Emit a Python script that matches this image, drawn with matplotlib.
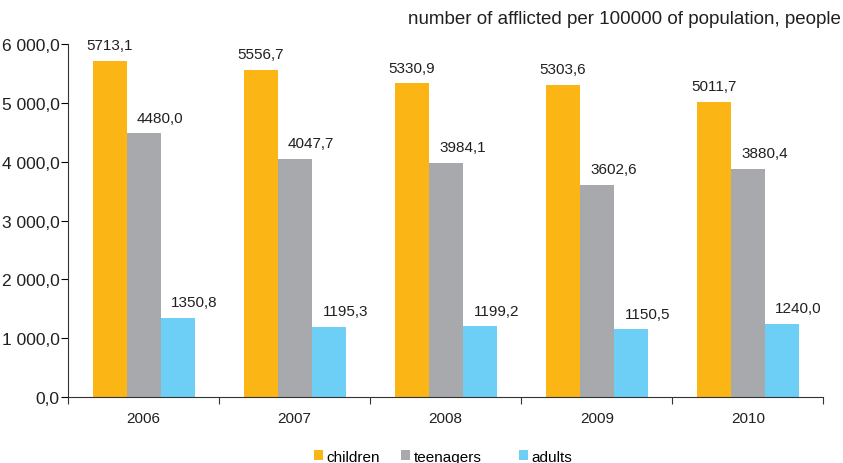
import numpy as np
import matplotlib.pyplot as plt
from matplotlib.ticker import FuncFormatter

plt.rcParams['font.family'] = ['Liberation Sans', 'DejaVu Sans']

years = ['2006', '2007', '2008', '2009', '2010']
children = [5713.1, 5556.7, 5330.9, 5303.6, 5011.7]
teenagers = [4480.0, 4047.7, 3984.1, 3602.6, 3880.4]
adults = [1350.8, 1195.3, 1199.2, 1150.5, 1240.0]

series = [('children', children, '#FBB615'),
          ('teenagers', teenagers, '#A7A9AC'),
          ('adults', adults, '#6DCFF5')]
# horizontal shift of value labels (points)
label_dx = [0, 12, 12]
# left edge of each legend entry (figure fraction)
legend_x = [0.373, 0.476, 0.616]

fig = plt.figure(figsize=(8.43, 4.64), dpi=100)
ax = fig.add_axes([0.0807, 0.1422, 0.896, 0.7608])

x = np.arange(len(years))
w = 0.225
for i, (name, vals, col) in enumerate(series):
    pos = x + (i - 1) * w
    bars = ax.bar(pos, vals, width=w, color=col, label=name)
    for p, v in zip(pos, vals):
        ax.annotate(f'{v:.1f}'.replace('.', ','), (p, v), xytext=(label_dx[i], 8.5),
                    textcoords='offset points', ha='center', va='baseline',
                    fontsize=11, color='#231F20')
    fig.legend([bars], [name], loc='center left',
               bbox_to_anchor=(legend_x[i], 0.014), frameon=False, fontsize=11,
               borderpad=0, borderaxespad=0, handlelength=0.55,
               handleheight=0.55, handletextpad=0.25)

ax.set_xlim(-0.5, len(years) - 0.5)
ax.set_ylim(0, 6000)
ax.set_yticks(np.arange(0, 6001, 1000))
ax.yaxis.set_major_formatter(FuncFormatter(
    lambda v, _: f'{v:,.1f}'.replace(',', ' ').replace('.', ',')))
ax.set_xticks(x)
ax.set_xticklabels(years)
ax.set_xticks(np.arange(-0.5, len(years)), minor=True)
ax.tick_params(axis='x', which='major', length=0, pad=10, labelsize=11,
               labelcolor='#231F20')
ax.tick_params(axis='x', which='minor', length=5, width=0.8, color='#333333')
ax.tick_params(axis='y', length=5, width=0.8, labelsize=12.5, pad=1,
               labelcolor='#231F20')
for s in ['top', 'right']:
    ax.spines[s].set_visible(False)
ax.spines['left'].set_color('#333333')
ax.spines['bottom'].set_color('#333333')
ax.spines['left'].set_linewidth(0.8)
ax.spines['bottom'].set_linewidth(0.8)

fig.text(0.997, 0.957, 'number of afflicted per 100000 of population, people',
         ha='right', va='center', fontsize=13.5, color='#231F20')

fig.savefig('out.png', dpi=100)
